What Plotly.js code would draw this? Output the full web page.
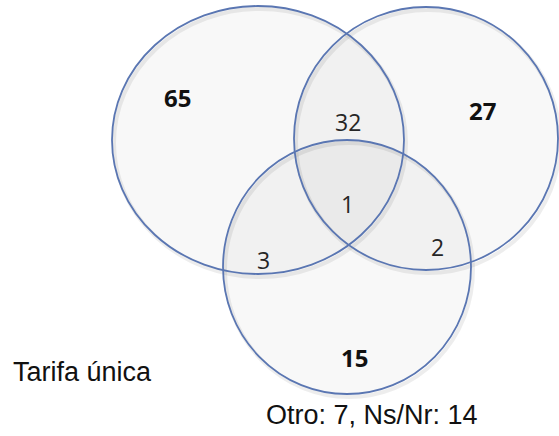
<!DOCTYPE html>
<html>
<head>
<meta charset="utf-8">
<script src="https://cdn.plot.ly/plotly-3.0.1.min.js"></script>
<style>
html,body{margin:0;padding:0;background:#fff;}
#chart{width:559px;height:436px;}
</style>
</head>
<body>
<div id="chart"></div>
<script>
// ---- data ----
const setRegions   = ['A', 'B', 'C', 'A∩B', 'A∩C', 'B∩C', 'A∩B∩C'];
const regionCounts = [65, 27, 15, 32, 3, 2, 1];
const regionBold   = [true, true, true, false, false, false, false];
const sideLabel    = 'Tarifa única';
const otherNames   = ['Otro', 'Ns/Nr'];
const otherCounts  = [7, 14];

// ---- layout geometry (pixel space) ----
const circles = [
  {x0: 112, x1: 404, y0: 6,   y1: 274},   // A
  {x0: 294, x1: 558, y0: 7,   y1: 270},   // B
  {x0: 223, x1: 471, y0: 140, y1: 394}    // C
];
const labelPos = [
  [177, 97], [482, 110], [354, 357], [348, 122], [263, 260], [437, 247], [347, 204]
];

const shapes = [];
// soft shadows
circles.forEach(c => shapes.push({
  type: 'circle', xref: 'x', yref: 'y', layer: 'below',
  x0: c.x0 + 2, x1: c.x1 + 2, y0: c.y0 + 3, y1: c.y1 + 3,
  line: {color: 'rgba(0,0,0,0.07)', width: 4}, fillcolor: 'rgba(0,0,0,0)'
}));
// translucent fills
circles.forEach(c => shapes.push({
  type: 'circle', xref: 'x', yref: 'y', layer: 'below',
  x0: c.x0, x1: c.x1, y0: c.y0, y1: c.y1,
  line: {width: 0}, fillcolor: 'rgba(0,0,0,0.028)'
}));
// outlines
circles.forEach(c => shapes.push({
  type: 'circle', xref: 'x', yref: 'y', layer: 'above',
  x0: c.x0, x1: c.x1, y0: c.y0, y1: c.y1,
  line: {color: 'rgb(90,118,178)', width: 1.8}, fillcolor: 'rgba(0,0,0,0)'
}));

const annotations = regionCounts.map((v, i) => ({
  x: labelPos[i][0], y: labelPos[i][1], xref: 'x', yref: 'y',
  text: regionBold[i] ? '<b>' + v + '</b>' : String(v),
  showarrow: false, xanchor: 'center', yanchor: 'middle',
  font: {family: 'Open Sans, DejaVu Sans, sans-serif', size: regionBold[i] ? 24 : 23,
         color: regionBold[i] ? '#111111' : '#262626'}
}));
annotations.push({
  x: 11, y: 372, xref: 'x', yref: 'y', text: sideLabel, showarrow: false,
  xanchor: 'left', yanchor: 'middle',
  font: {family: 'Liberation Sans, Arial, sans-serif', size: 27, color: '#111'}
});
annotations.push({
  x: 372, y: 415, xref: 'x', yref: 'y',
  text: otherNames.map((n, i) => n + ': ' + otherCounts[i]).join(', '),
  showarrow: false, xanchor: 'center', yanchor: 'middle',
  font: {family: 'Liberation Sans, Arial, sans-serif', size: 27, color: '#111'}
});

const layout = {
  width: 559, height: 436,
  margin: {l: 0, r: 0, t: 0, b: 0, pad: 0},
  paper_bgcolor: '#fff', plot_bgcolor: '#fff',
  showlegend: false,
  xaxis: {range: [0, 559], visible: false, fixedrange: true},
  yaxis: {range: [436, 0], visible: false, fixedrange: true},
  shapes: shapes,
  annotations: annotations
};

Plotly.newPlot('chart', [{x: [], y: [], type: 'scatter', mode: 'markers', hoverinfo: 'skip'}], layout, {staticPlot: true, displayModeBar: false});
</script>
</body>
</html>
